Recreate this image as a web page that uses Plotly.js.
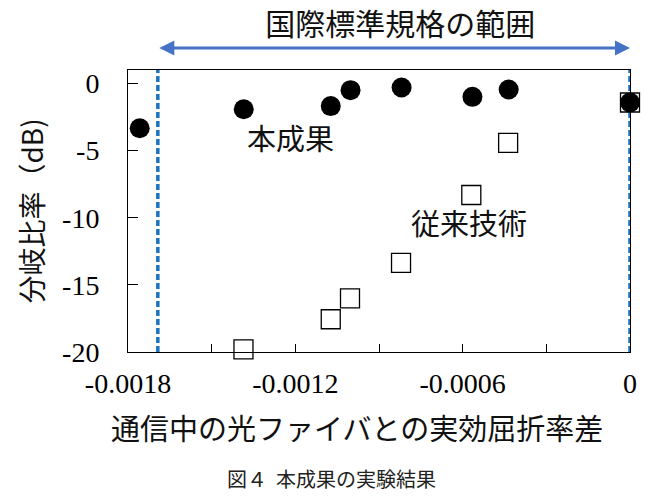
<!DOCTYPE html>
<html>
<head>
<meta charset="utf-8">
<script src="https://cdn.plot.ly/plotly-3.0.1.min.js"></script>
<style>
  html, body { margin: 0; padding: 0; background: #fff; }
  #chart { width: 654px; height: 500px; }
</style>
</head>
<body>
<div id="chart"></div>
<script>
// 本成果 (filled circles)
const newX = [-0.001758, -0.001385, -0.001073, -0.001002, -0.000819, -0.000565, -0.000435, 0];
const newY = [-3.34, -1.92, -1.69, -0.50, -0.30, -1.00, -0.45, -1.42];

// 従来技術 (open squares)
const oldX = [-0.001386, -0.001073, -0.001004, -0.000821, -0.000569, -0.000437, 0];
const oldY = [-19.8, -17.56, -16.0, -13.36, -8.31, -4.43, -1.42];

// range of the international standard (dashed lines + arrow)
const standardRange = [-0.001693, 0];

const xTickVals = [-0.0018, -0.0015, -0.0012, -0.0009, -0.0006, -0.0003, 0];
const xTickText = ['-0.0018', '', '-0.0012', '', '-0.0006', '', '0'];
const yTickVals = [0, -5, -10, -15, -20];
const yTickText = ['0', '-5', '-10', '-15', '-20'];

const jp = 'Noto Sans CJK JP, Noto Sans, sans-serif';
const serif = 'Times New Roman, Liberation Serif, serif';
const blue = '#1a72c0';

let traces = [
    {
        x: oldX,
        y: oldY,
        type: 'scatter',
        mode: 'markers',
        name: '従来技術',
        cliponaxis: false,
        marker: {symbol: 'square', size: 19, color: '#fff', line: {color: '#000', width: 1.3}},
    },
    {
        x: newX,
        y: newY,
        type: 'scatter',
        mode: 'markers',
        name: '本成果',
        cliponaxis: false,
        marker: {symbol: 'circle', size: 20, color: '#000'},
    },
];

let shapes = standardRange.map(function(v) {
    return {
        type: 'line', xref: 'x', yref: 'paper',
        x0: v, x1: v, y0: 0, y1: 1,
        layer: 'between',
        line: {color: blue, width: 3.5, dash: '6px,3px'},
    };
});

let annotations = [
    {   // double arrow for the standard range
        xref: 'x', yref: 'paper', axref: 'x', ayref: 'pixel',
        x: standardRange[1], y: 1.078,
        ax: standardRange[0], ay: 0,
        text: '', showarrow: true,
        arrowside: 'end+start', arrowhead: 2, arrowsize: 1, arrowwidth: 3,
        arrowcolor: '#4472c4',
    },
    {
        xref: 'x', yref: 'y', x: -0.001216, y: -3.97,
        text: '本成果', showarrow: false,
        font: {family: jp, size: 29, color: '#111'},
    },
    {
        xref: 'x', yref: 'y', x: -0.000579, y: -10.31,
        text: '従来技術', showarrow: false,
        font: {family: jp, size: 29, color: '#111'},
    },
    {   // x axis title, placed like the original (left of plot centre)
        xref: 'paper', yref: 'paper', x: 0.457, y: -0.265,
        xanchor: 'center', yanchor: 'middle',
        text: '通信中の光ファイバとの実効屈折率差', showarrow: false,
        font: {family: jp, size: 29, color: '#111'},
    },
    {
        xref: 'paper', yref: 'paper', x: 0.406, y: -0.45,
        xanchor: 'center', yanchor: 'middle',
        text: '図４  本成果の実験結果', showarrow: false,
        font: {family: jp, size: 20, color: '#222'},
    },
];

let layout = {
    width: 654,
    height: 500,
    showlegend: false,
    paper_bgcolor: '#fff',
    plot_bgcolor: '#fff',
    margin: {l: 128, r: 24, t: 70, b: 148},
    title: {
        text: '国際標準規格の範囲',
        font: {family: jp, size: 30, color: '#111'},
        x: 0.612, xanchor: 'center',
        y: 0.952, yanchor: 'middle',
    },
    xaxis: {
        range: [-0.0018, 0],
        tickvals: xTickVals,
        ticktext: xTickText,
        ticks: 'inside',
        ticklen: 8,
        tickcolor: '#000',
        showgrid: false,
        zeroline: false,
        showline: true,
        mirror: true,
        linecolor: '#000',
        linewidth: 1,
        ticklabelstandoff: 6,
        tickfont: {family: serif, size: 28, color: '#000'},
    },
    yaxis: {
        range: [-20, 1],
        tickvals: yTickVals,
        ticktext: yTickText,
        ticks: 'inside',
        ticklen: 10,
        tickcolor: '#000',
        showgrid: false,
        zeroline: false,
        showline: true,
        mirror: true,
        linecolor: '#000',
        linewidth: 1,
        ticklabelstandoff: 22,
        tickfont: {family: serif, size: 28, color: '#000'},
        title: {
            text: '分岐比率（dB)',
            font: {family: jp, size: 28, color: '#111'},
            standoff: 10,
        },
    },
    shapes: shapes,
    annotations: annotations,
};

Plotly.newPlot('chart', traces, layout, {displayModeBar: false, staticPlot: true});
</script>
</body>
</html>
